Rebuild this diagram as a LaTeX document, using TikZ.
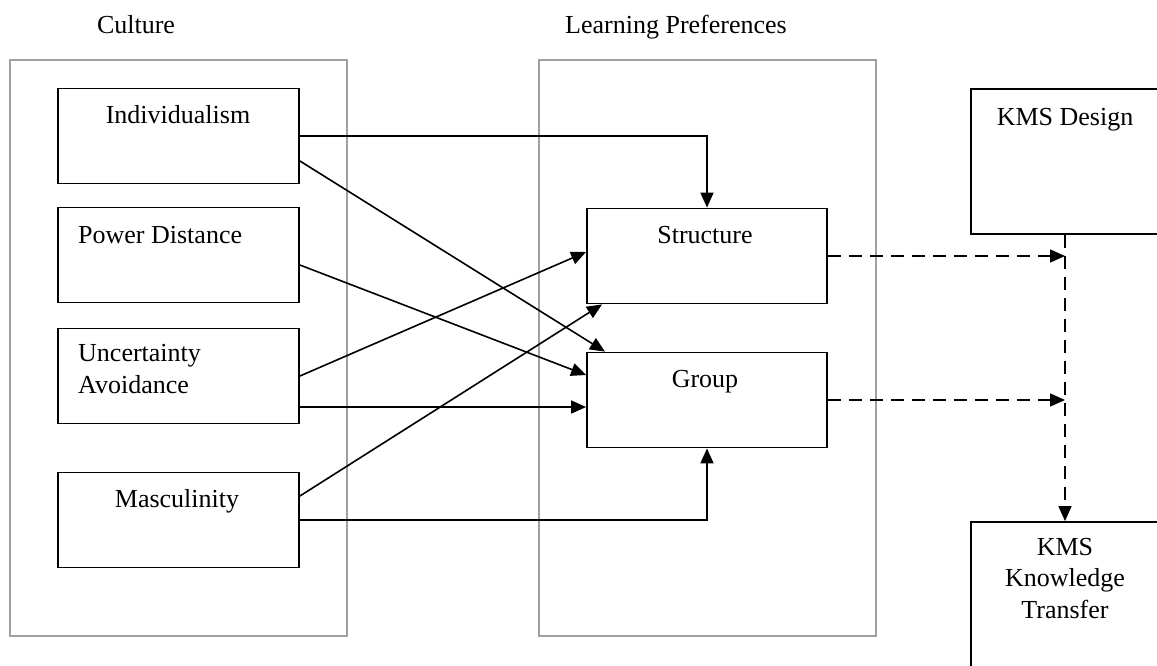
\documentclass[tikz,border=0pt]{standalone}
\usepackage{fontspec}
\setmainfont{Liberation Serif}
\usetikzlibrary{arrows.meta,positioning}
\definecolor{frame}{HTML}{A0A0A0}

\begin{document}
\begin{tikzpicture}[x=1pt,y=-1pt,
    font=\fontsize{26}{31.5}\selectfont,
    outer/.style={draw=frame,line width=1.8pt,minimum width=337pt,minimum height=576pt},
    box/.style={draw,line width=1.8pt,minimum width=241pt,minimum height=95pt},
    kms/.style={draw,line width=1.8pt,minimum width=188pt,minimum height=145pt},
    txt/.style={inner sep=0pt,anchor=base},
    link/.style={line width=1.6pt,-{Triangle[length=15pt,width=13pt]}},
    dlink/.style={link,dash pattern=on 13pt off 8pt}]
        \clip (0,0) rectangle (1157,665);

        \path
        % groups
        (178.5,348) node[outer](cult) {}
        (707.5,348) node[outer](lrn) {}
        (136,33) node[txt](cultT) {Culture}
        (676,33) node[txt](lrnT) {Learning Preferences}

        % culture
        (178.5,136) node[box](indiv) {}
        (178.5,255) node[box](power) {}
        (178.5,376) node[box](uncert) {}
        (178.5,520) node[box](masc) {}
        (178,123) node[txt](indivT) {Individualism}
        (78,243) node[txt,anchor=base west](powerT) {Power Distance}
        (78,393) node[txt,anchor=base west,align=left](uncertT) {Uncertainty\\Avoidance}
        (177,507) node[txt](mascT) {Masculinity}

        % learning preferences
        (707,256) node[box,minimum width=240pt](struct) {}
        (707,400) node[box,minimum width=240pt](group) {}
        (705,243) node[txt](structT) {Structure}
        (705,387) node[txt](groupT) {Group}

        % kms
        (1065,161.5) node[kms](kmsd) {}
        (1065,594.5) node[kms](kmskt) {}
        (1065,125) node[txt](kmsdT) {KMS Design}
        (1065,618) node[txt,align=center](kmsktT) {KMS\\Knowledge\\Transfer}
        ;

        \draw[link] (indiv.east) -| (struct.north);
        \draw[link] ([yshift=-25pt]indiv.east) -- ([xshift=-102pt]group.north);
        \draw[link] ([yshift=-10pt]power.east) -- ([yshift=25pt]group.west);
        \draw[link] (uncert.east) -- ([yshift=4pt]struct.west);
        \draw[link] ([yshift=-31pt]uncert.east) coordinate (ua) -- (group.west |- ua);
        \draw[link] ([yshift=24pt]masc.east) -- ([xshift=-105pt]struct.south);
        \draw[link] (masc.east) -| (group.south);

        \draw[dlink] (struct.east) -- (kmsd.south |- struct.east);
        \draw[dlink] (group.east) -- (kmsd.south |- group.east);
        \draw[dlink] (kmsd.south) -- (kmskt.north);
      \end{tikzpicture}
\end{document}
